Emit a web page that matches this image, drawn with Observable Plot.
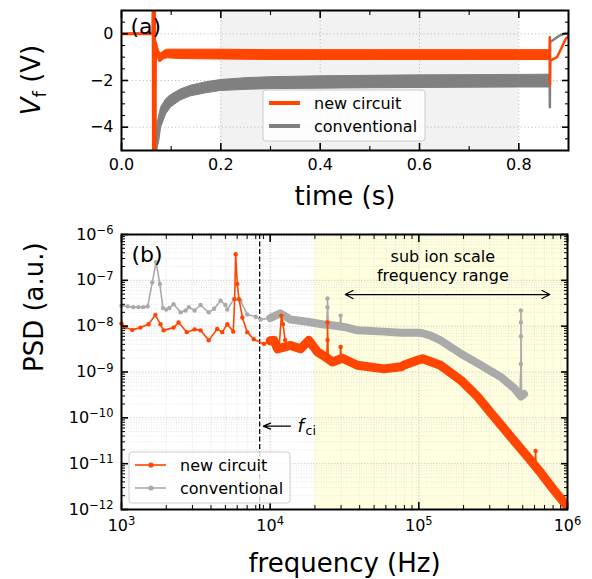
<!DOCTYPE html>
<html><head><meta charset="utf-8">
<script src="https://cdn.jsdelivr.net/npm/d3@7"></script>
<script src="https://cdn.jsdelivr.net/npm/@observablehq/plot@0.6"></script>
<style>
html,body{margin:0;padding:0;background:#fff;}
#page{position:relative;width:592px;height:579px;overflow:hidden;font-family:"DejaVu Sans",sans-serif;}
#page > div{position:absolute;left:0;}
</style></head>
<body><div id="page"><div id="pa" style="top:0"></div><div id="pb" style="top:215px"></div></div>
<script>
const FONT = "DejaVu Sans";
const ORANGE = "#ff4500", GRAY_A = "#808080", GRAY_B = "#aaaaaa";
const seriesNames = ["new circuit", "conventional"];

// ---------------- Panel (a): floating potential vs time ----------------
const timeDomain = [0, 0.9];
const vfDomain = [-5, 1];
const timeTicks = [0, 0.2, 0.4, 0.6, 0.8];
const timeTickLabels = ["0.0", "0.2", "0.4", "0.6", "0.8"];
const timeMinorTicks = [0.1, 0.3, 0.5, 0.7];
const vfTicks = [-4, -2, 0];
const vfTickLabels = ["−4", "−2", "0"];
const vfMinorTicks = [-4.5, -3.5, -3, -2.5, -1.5, -1, -0.5, 0.5];
const steadyWindow = [0.2, 0.8];

// new circuit (orange)
const newStartT = [0, 0.063, 0.0637, 0.0644, 0.0651, 0.0658, 0.0665, 0.0672, 0.0685];
const newStartV = [0, 0, 1.5, -5.5, 1.5, -5.5, 1.5, -5.5, -0.4];
const newBandT  = [0.068, 0.072, 0.076, 0.08, 0.085, 0.092, 0.12, 0.2, 0.3, 0.4, 0.5, 0.6, 0.7, 0.8, 0.862];
const newBandLo = [-0.55, -0.95, -1.2, -1.2, -1.1, -1.05, -1.08, -1.1, -1.12, -1.12, -1.12, -1.12, -1.12, -1.12, -1.12];
const newBandHi = [-0.2, -0.45, -0.75, -0.85, -0.75, -0.68, -0.68, -0.68, -0.7, -0.7, -0.7, -0.7, -0.7, -0.7, -0.7];
const newEndT = [0.862, 0.8622, 0.8626, 0.8632, 0.877, 0.894, 0.9];
const newEndV = [-0.9, -0.15, -2.2, -1.15, -1.0, -0.23, -0.1];

// conventional (gray)
const convStartT = [0, 0.065, 0.0695];
const convStartV = [0, 0, -5.5];
const convBandT  = [0.069, 0.072, 0.076, 0.08, 0.09, 0.1, 0.12, 0.14, 0.17, 0.2, 0.25, 0.3, 0.4, 0.5, 0.6, 0.7, 0.8, 0.862];
const convBandLo = [-5, -5, -4.6, -4.0, -3.45, -3.15, -2.85, -2.68, -2.55, -2.45, -2.4, -2.37, -2.35, -2.33, -2.32, -2.31, -2.3, -2.3];
const convBandHi = [-4.6, -3.9, -3.5, -3.15, -2.8, -2.62, -2.38, -2.22, -2.08, -1.98, -1.9, -1.86, -1.82, -1.8, -1.78, -1.77, -1.76, -1.75];
const convEndT = [0.862, 0.8625, 0.863, 0.87, 0.88, 0.89, 0.9];
const convEndV = [-2.0, -3.15, -0.35, -0.25, -0.1, 0.0, 0.05];

// ---------------- Panel (b): power spectral density ----------------
const freqDomain = [1e3, 1e6];
const psdDomain = [1e-12, 1e-6];
const freqTicks = [1e3, 1e4, 1e5, 1e6];
const freqTickExponents = ["3", "4", "5", "6"];
const psdTicks = [1e-12, 1e-11, 1e-10, 1e-9, 1e-8, 1e-7, 1e-6];
const psdTickExponents = ["−12", "−11", "−10", "−9", "−8", "−7", "−6"];
const subIonRange = [2e4, 1e6];
const fci = 8500;

// conventional: resolved low-frequency points, dense high-frequency trace, spikes
const convLowF = [1000, 1100, 1200, 1300, 1400, 1500, 1610, 1710, 1810, 1900, 2000, 2100, 2240, 2500, 2700, 2840, 3100, 3400, 3860, 4200, 4640, 5000, 5150, 5690, 6310, 7010, 8000, 8630, 10000];
const convLowP = [2.8e-8, 2.7e-8, 2.6e-8, 2.6e-8, 2.6e-8, 2.7e-8, 9e-8, 2.5e-7, 8.3e-8, 2.5e-8, 2.3e-8, 2.5e-8, 3.0e-8, 2.0e-8, 2.2e-8, 2.6e-8, 2.2e-8, 2.9e-8, 2.0e-8, 2.4e-8, 3.6e-8, 2.9e-8, 2.3e-8, 3.9e-8, 3.6e-8, 1.8e-8, 1.6e-8, 1.4e-8, 1.5e-8];
const convHighF = [10000, 11700, 13700, 17800, 22400, 26000, 32000, 38600, 58000, 76000, 98000, 106000, 120000, 140000, 192000, 262000, 356000, 439000, 486000, 510000];
const convHighP = [1.5e-8, 1.9e-8, 1.4e-8, 1.25e-8, 1.1e-8, 1.05e-8, 9.5e-9, 8.1e-9, 7.6e-9, 7.2e-9, 7.2e-9, 7.0e-9, 6.2e-9, 4.9e-9, 2.5e-9, 1.4e-9, 7.8e-10, 4.4e-10, 2.9e-10, 3.3e-10];
const convSpikes = [
  [[24000, 1.1e-8], [24300, 2.6e-8], [24300, 4.0e-8], [24600, 1.1e-8]],
  [[29500, 1.0e-8], [29800, 1.7e-8], [30100, 1.0e-8]],
  [[480000, 4e-10], [486000, 1.5e-9], [486000, 6e-9], [486000, 1.2e-8], [486000, 2.2e-8], [490000, 3e-10]]
];

// new circuit
const newLowF = [1000, 1060, 1180, 1340, 1520, 1690, 1830, 1920, 2240, 2420, 2750, 3100, 3400, 3860, 4400, 4760, 5150, 5650, 5770, 5860, 6010, 6170, 6500, 7010, 7760, 9080, 10000];
const newLowP = [1.15e-8, 9.5e-9, 8.3e-9, 9.3e-9, 1.1e-8, 1.75e-8, 1.1e-8, 8.1e-9, 9.3e-9, 1.2e-8, 7.4e-9, 8.5e-9, 8.1e-9, 4.9e-9, 8.7e-9, 7.4e-9, 1.1e-8, 7.6e-9, 3.9e-8, 3.7e-7, 8.3e-8, 3.9e-8, 1.55e-8, 7.4e-9, 5.2e-9, 4.1e-9, 4.8e-9];
const newHighF = [10000, 10600, 11200, 13700, 16000, 18200, 20800, 23700, 26200, 30600, 38600, 58300, 76000, 79000, 98000, 106000, 140000, 192000, 248000, 321000, 417000, 540000, 664000, 815000, 977000, 1000000];
const newHighP = [4.8e-9, 4.9e-9, 3.2e-9, 3.8e-9, 3.2e-9, 4.9e-9, 2.75e-9, 2.1e-9, 1.66e-9, 2.0e-9, 1.4e-9, 1.17e-9, 1.3e-9, 1.4e-9, 1.8e-9, 1.95e-9, 1.4e-9, 6.6e-10, 2.9e-10, 1.05e-10, 3.8e-11, 1.4e-11, 6.2e-12, 2.6e-12, 1.26e-12, 1.1e-12];
const newSpikes = [
  [[11500, 3.5e-9], [11900, 1.7e-8], [12200, 1.1e-8], [12600, 5e-9]],
  [[24000, 2.2e-9], [24300, 5e-9], [24300, 1.2e-8], [24600, 2.0e-9]],
  [[29500, 1.9e-9], [29800, 3.5e-9], [30100, 1.9e-9]],
  [[605000, 9e-12], [610000, 1.9e-11], [615000, 9e-12]]
];

// annotations
const rangeArrow = {from: 3.2e4, to: 7.6e5, p: 4.9e-8};
const rangeLabelLines = ["sub ion scale", "frequency range"];
const rangeLabelPos = {f: 1.45e5, p: 2.0e-7};
const fciArrow = {from: 1.37e4, to: 9.0e3, p: 6.6e-11};
const fciLabel = {f: 1.53e4, p: 6.6e-11};

// ---------------- helpers ----------------
const zip = (t, v) => t.map((x, i) => ({t: x, v: v[i]}));
const band = (t, lo, hi) => t.map((x, i) => ({t: x, lo: lo[i], hi: hi[i]}));
const pairs = (f, p) => f.map((x, i) => ({f: x, p: p[i]}));
const spikeData = (list) => list.flatMap((s, k) => s.map(([f, p]) => ({f, p, k})));
const decadeMinors = (majors) => majors.slice(0, -1).flatMap(d => [2, 3, 4, 5, 6, 7, 8, 9].map(m => d * m));

function inwardTicks(xs, ys, size, width) {
  return [
    Plot.axisX(xs, {anchor: "bottom", tickSize: size, dy: -size, fill: "none", label: null, strokeWidth: width}),
    Plot.axisX(xs, {anchor: "top", tickSize: size, dy: size, fill: "none", label: null, strokeWidth: width}),
    Plot.axisY(ys, {anchor: "left", tickSize: size, dx: size, fill: "none", label: null, strokeWidth: width}),
    Plot.axisY(ys, {anchor: "right", tickSize: size, dx: -size, fill: "none", label: null, strokeWidth: width})
  ];
}

function fixTickLabels(svg) {
  d3.select(svg).selectAll('g[aria-label$="tick label"]').attr("font-size", 16).style("font-size", "16px");
  d3.select(svg).selectAll('g[aria-label$="tick label"] text').each(function () {
    const s = d3.select(this);
    const t = s.text();
    if (t.includes("^")) {
      const [b, e] = t.split("^");
      s.text(null);
      s.append("tspan").text(b);
      s.append("tspan").attr("dy", "-0.48em").style("font-size", "11.5px").text(e);
    }
  });
}

function legend(svg, x, y, w, h, items, withDots) {
  const g = d3.select(svg).append("g");
  g.append("rect").attr("x", x).attr("y", y).attr("width", w).attr("height", h).attr("rx", 3)
    .attr("fill", "white").attr("fill-opacity", 0.8).attr("stroke", "#cccccc").attr("stroke-width", 1);
  items.forEach((it, i) => {
    const cy = y + 13 + i * 23;
    g.append("line").attr("x1", x + 6).attr("x2", x + 37).attr("y1", cy).attr("y2", cy)
      .attr("stroke", it.color).attr("stroke-width", it.w);
    if (withDots) g.append("circle").attr("cx", x + 22).attr("cy", cy).attr("r", 2.6).attr("fill", it.color);
    g.append("text").attr("x", x + 51).attr("y", cy + 5.5).attr("text-anchor", "start")
      .style("font-size", "16px").attr("fill", "black").attr("font-family", FONT).text(it.label);
  });
}

// ---------------- panel (a) ----------------
const mA = {left: 121, right: 24, top: 10, bottom: 65, height: 215};
const topPlot = Plot.plot({
  width: 592, height: mA.height,
  marginLeft: mA.left, marginRight: mA.right, marginTop: mA.top, marginBottom: mA.bottom,
  style: {fontFamily: FONT, fontSize: "16px", color: "black", background: "white"},
  x: {domain: timeDomain},
  y: {domain: vfDomain},
  marks: [
    Plot.rect([steadyWindow], {x1: d => d[0], x2: d => d[1], y1: () => vfDomain[0], y2: () => vfDomain[1], fill: "#f2f2f2"}),
    Plot.gridX(timeTicks, {stroke: "#b0b0b0", strokeOpacity: 1, strokeWidth: 0.8, strokeDasharray: "1.2,2.4"}),
    Plot.gridY(vfTicks, {stroke: "#b0b0b0", strokeOpacity: 1, strokeWidth: 0.8, strokeDasharray: "1.2,2.4"}),
    Plot.line(zip(convStartT, convStartV), {x: "t", y: "v", stroke: GRAY_A, strokeWidth: 2.5, clip: true}),
    Plot.areaY(band(convBandT, convBandLo, convBandHi), {x: "t", y1: "lo", y2: "hi", fill: GRAY_A, stroke: GRAY_A, strokeWidth: 1, clip: true}),
    Plot.line(zip(convEndT, convEndV), {x: "t", y: "v", stroke: GRAY_A, strokeWidth: 2.5, clip: true}),
    Plot.line(zip(newStartT, newStartV), {x: "t", y: "v", stroke: ORANGE, strokeWidth: 3, clip: true}),
    Plot.areaY(band(newBandT, newBandLo, newBandHi), {x: "t", y1: "lo", y2: "hi", fill: ORANGE, stroke: ORANGE, strokeWidth: 1, clip: true}),
    Plot.line(zip(newEndT, newEndV), {x: "t", y: "v", stroke: ORANGE, strokeWidth: 2.5, clip: true}),
    Plot.text(["(a)"], {text: d => d, frameAnchor: "top-left", textAnchor: "start", lineAnchor: "top", dx: 9, dy: 8, fontSize: 22}),
    Plot.text(["time (s)"], {text: d => d, frameAnchor: "bottom", lineAnchor: "middle", dy: 46, fontSize: 26}),
    Plot.frame({stroke: "black", strokeWidth: 2}),
    Plot.axisX(timeTicks, {anchor: "bottom", tickSize: 0, tickPadding: 8, tickFormat: d => timeTickLabels[timeTicks.indexOf(d)], label: null, fontSize: 16}),
    Plot.axisY(vfTicks, {anchor: "left", tickSize: 0, tickPadding: 8, tickFormat: d => vfTickLabels[vfTicks.indexOf(d)], label: null, fontSize: 16}),
    ...inwardTicks(timeTicks, vfTicks, 7, 1.6),
    ...inwardTicks(timeMinorTicks, vfMinorTicks, 4, 1.1)
  ]
});
document.getElementById("pa").appendChild(topPlot);
fixTickLabels(topPlot);
{
  const frameMidY = mA.top + (mA.height - mA.top - mA.bottom) / 2;
  const lab = d3.select(topPlot).append("text")
    .attr("transform", `translate(${mA.left - 81},${frameMidY}) rotate(-90)`)
    .attr("text-anchor", "middle").style("font-size", "26px").attr("font-family", FONT).attr("fill", "black");
  lab.append("tspan").attr("font-style", "italic").text("V");
  lab.append("tspan").attr("dy", 6).style("font-size", "18px").text("f");
  lab.append("tspan").attr("dy", -6).text(" (V)");
  legend(topPlot, 263, 90, 162, 51, [
    {label: seriesNames[0], color: ORANGE, w: 4},
    {label: seriesNames[1], color: GRAY_A, w: 4}
  ], false);
}

// ---------------- panel (b) ----------------
const freqMinor = decadeMinors(freqTicks);
const psdMinor = decadeMinors(psdTicks);
const mid = Math.sqrt(rangeArrow.from * rangeArrow.to);

const psdPlot = Plot.plot({
  width: 592, height: 364,
  marginLeft: 121, marginRight: 25, marginTop: 19, marginBottom: 70,
  style: {fontFamily: FONT, fontSize: "16px", color: "black", background: "white"},
  x: {type: "log", domain: freqDomain},
  y: {type: "log", domain: psdDomain},
  marks: [
    Plot.rect([subIonRange], {x1: d => d[0], x2: d => d[1], y1: () => psdDomain[0], y2: () => psdDomain[1], fill: "#ffffe0"}),
    Plot.gridX(freqMinor, {stroke: "#d4d4d4", strokeOpacity: 1, strokeWidth: 0.6, strokeDasharray: "1,1.5"}),
    Plot.gridY(psdMinor, {stroke: "#d4d4d4", strokeOpacity: 1, strokeWidth: 0.6, strokeDasharray: "1,1.5"}),
    Plot.gridX(freqTicks, {stroke: "#c4c4c4", strokeOpacity: 1, strokeWidth: 0.8, strokeDasharray: "1.5,1.5"}),
    Plot.gridY(psdTicks, {stroke: "#c4c4c4", strokeOpacity: 1, strokeWidth: 0.8, strokeDasharray: "1.5,1.5"}),
    Plot.ruleX([fci], {stroke: "black", strokeWidth: 1.3, strokeDasharray: "5,2.5"}),
    // conventional
    Plot.line(pairs(convHighF, convHighP), {x: "f", y: "p", stroke: GRAY_B, strokeWidth: 8, strokeLinejoin: "round", strokeLinecap: "round", clip: true}),
    Plot.line(pairs(convLowF, convLowP), {x: "f", y: "p", stroke: GRAY_B, strokeWidth: 1.6}),
    Plot.dot(pairs(convLowF, convLowP), {x: "f", y: "p", r: 2.2, fill: GRAY_B, stroke: "none"}),
    Plot.line(spikeData(convSpikes), {x: "f", y: "p", z: "k", stroke: GRAY_B, strokeWidth: 1.6}),
    Plot.dot(spikeData(convSpikes), {x: "f", y: "p", r: 2.2, fill: GRAY_B, stroke: "none"}),
    // new circuit
    Plot.line(pairs(newHighF, newHighP), {x: "f", y: "p", stroke: ORANGE, strokeWidth: 9, strokeLinejoin: "round", strokeLinecap: "round", clip: true}),
    Plot.line(pairs(newLowF, newLowP), {x: "f", y: "p", stroke: ORANGE, strokeWidth: 1.6}),
    Plot.dot(pairs(newLowF, newLowP), {x: "f", y: "p", r: 2.2, fill: ORANGE, stroke: "none"}),
    Plot.line(spikeData(newSpikes), {x: "f", y: "p", z: "k", stroke: ORANGE, strokeWidth: 1.6}),
    Plot.dot(spikeData(newSpikes), {x: "f", y: "p", r: 2.2, fill: ORANGE, stroke: "none"}),
    // annotations
    Plot.arrow([{a: mid, b: rangeArrow.from}, {a: mid, b: rangeArrow.to}], {x1: "a", x2: "b", y1: () => rangeArrow.p, y2: () => rangeArrow.p, stroke: "black", strokeWidth: 1.3, headLength: 10, headAngle: 55}),
    Plot.text([rangeLabelPos], {x: "f", y: "p", text: () => rangeLabelLines[0], fontSize: 16, lineAnchor: "middle", dy: -9.5}),
    Plot.text([rangeLabelPos], {x: "f", y: "p", text: () => rangeLabelLines[1], fontSize: 16, lineAnchor: "middle", dy: 9.5}),
    Plot.arrow([fciArrow], {x1: "from", x2: "to", y1: "p", y2: "p", stroke: "black", strokeWidth: 1.3, headLength: 9, headAngle: 45}),
    Plot.text([fciLabel], {x: "f", y: "p", text: () => "f", fontStyle: "italic", fontSize: 18, textAnchor: "start", lineAnchor: "middle"}),
    Plot.text([fciLabel], {x: "f", y: "p", text: () => "ci", fontSize: 12.5, textAnchor: "start", lineAnchor: "middle", dx: 8, dy: 5}),
    Plot.text(["(b)"], {text: d => d, frameAnchor: "top-left", textAnchor: "start", lineAnchor: "top", dx: 10, dy: 12, fontSize: 22}),
    Plot.text(["frequency (Hz)"], {text: d => d, frameAnchor: "bottom", lineAnchor: "middle", dy: 54, fontSize: 26}),
    Plot.text(["PSD (a.u.)"], {text: d => d, frameAnchor: "left", lineAnchor: "middle", rotate: -90, dx: -87, fontSize: 26}),
    Plot.frame({stroke: "black", strokeWidth: 2}),
    Plot.axisX(freqTicks, {anchor: "bottom", tickSize: 0, tickPadding: 10, tickFormat: d => "10^" + freqTickExponents[freqTicks.indexOf(d)], label: null, fontSize: 16}),
    Plot.axisY(psdTicks, {anchor: "left", tickSize: 0, tickPadding: 8, tickFormat: d => "10^" + psdTickExponents[psdTicks.indexOf(d)], label: null, fontSize: 16}),
    ...inwardTicks(freqTicks, psdTicks, 7, 1.6),
    ...inwardTicks(freqMinor, psdMinor, 4, 1.0)
  ]
});
document.getElementById("pb").appendChild(psdPlot);
fixTickLabels(psdPlot);
legend(psdPlot, 129, 237, 161, 51, [
  {label: seriesNames[0], color: ORANGE, w: 1.6},
  {label: seriesNames[1], color: GRAY_B, w: 1.6}
], true);
</script></body></html>
